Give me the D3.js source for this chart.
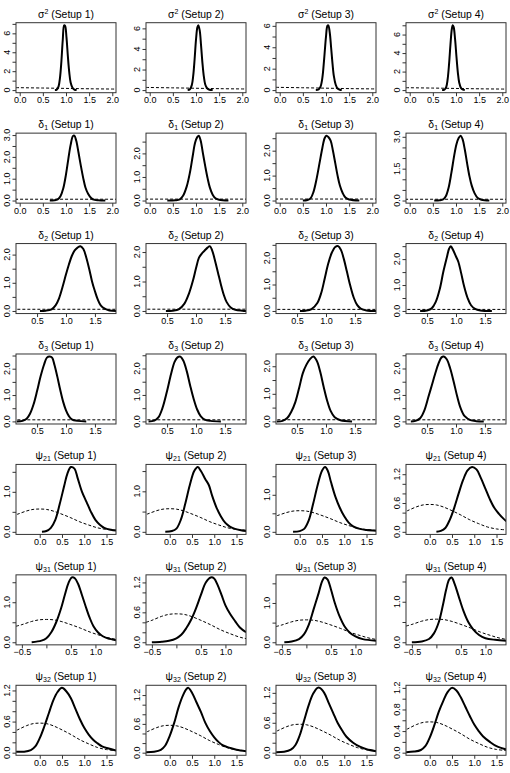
<!DOCTYPE html>
<html>
<head>
<meta charset="utf-8">
<script src="https://cdn.jsdelivr.net/npm/d3@7"></script>
<style>
  body { margin: 0; background: #fff; }
  text { font-family: "Liberation Sans", Arial, sans-serif; fill: #000; }
</style>
</head>
<body>
<svg id="chart" width="510" height="773"></svg>
<script>
// --- Labels ---
const setups = ["Setup 1", "Setup 2", "Setup 3", "Setup 4"];
const paramSymbols = ["σ", "δ", "δ", "δ", "ψ", "ψ", "ψ"];
const paramSup = ["2", "", "", "", "", "", ""];
const paramSub = ["", "1", "2", "3", "21", "31", "32"];

// --- Axis limits (before R's 4% expansion) and ticks ---
const xLimits = [[0, 2], [0, 2], [0.2, 1.8], [0.2, 1.8], [-0.45, 1.63], [-0.544, 1.344], [-0.45, 1.63]];
const xTicks = [
  [0, 0.5, 1, 1.5, 2], [0, 0.5, 1, 1.5, 2], [0.5, 1, 1.5], [0.5, 1, 1.5],
  [0, 0.5, 1, 1.5], [-0.5, 0, 0.5, 1], [0, 0.5, 1, 1.5]
];
const xLabels = [
  [0, 0.5, 1, 1.5, 2], [0, 0.5, 1, 1.5, 2], [0.5, 1, 1.5], [0.5, 1, 1.5],
  [0, 0.5, 1, 1.5], [-0.5, 0.5, 1], [0, 0.5, 1, 1.5]
];
const yTicks = [
  [[0,1,2,3,4,5,6,7], [0,1,2,3,4,5,6], [0,1,2,3,4,5,6], [0,1,2,3,4,5,6,7]],
  [[0,0.5,1,1.5,2,2.5,3], [0,0.5,1,1.5,2,2.5], [0,0.5,1,1.5,2,2.5], [0,0.5,1,1.5,2,2.5,3]],
  [[0,0.5,1,1.5,2], [0,0.5,1,1.5,2], [0,0.5,1,1.5,2,2.5], [0,0.5,1,1.5,2,2.5]],
  [[0,0.5,1,1.5,2,2.5], [0,0.5,1,1.5,2,2.5], [0,0.5,1,1.5,2], [0,0.5,1,1.5,2,2.5]],
  [[0,0.5,1,1.5], [0,0.5,1,1.5], [0,0.5,1,1.5], [0,0.2,0.4,0.6,0.8,1,1.2]],
  [[0,0.5,1,1.5], [0,0.2,0.4,0.6,0.8,1,1.2], [0,0.5,1,1.5], [0,0.5,1,1.5]],
  [[0,0.2,0.4,0.6,0.8,1,1.2], [0,0.2,0.4,0.6,0.8,1,1.2], [0,0.2,0.4,0.6,0.8,1,1.2], [0,0.2,0.4,0.6,0.8,1,1.2]]
];
const yLabels = [
  [[0,2,4,6], [0,2,4,6], [0,2,4,6], [0,2,4,6]],
  [[0,1,2,3], [0,1,2], [0,1,2], [0,1.5,3]],
  [[0,1,2], [0,1,2], [0,1,2], [0,1,2]],
  [[0,1,2], [0,1,2], [0,1,2], [0,1,2]],
  [[0,1], [0,1], [0,1], [0,0.6,1.2]],
  [[0,1], [0,0.6,1.2], [0,1], [0,1]],
  [[0,0.6,1.2], [0,0.6,1.2], [0,0.6,1.2], [0,0.4,0.8,1.2]]
];

// --- Posterior densities (solid) ---
const sigma2Post = [
  [[0.76,0],[0.80,0.05],[0.84,0.4],[0.87,1.3],[0.90,3.0],[0.93,5.3],[0.96,6.85],[0.98,6.8],[1.01,5.6],[1.04,3.6],[1.07,1.9],[1.10,0.8],[1.14,0.25],[1.18,0.06],[1.23,0]],
  [[0.82,0],[0.87,0.08],[0.91,0.5],[0.94,1.4],[0.97,3.0],[1.0,4.9],[1.03,6.1],[1.05,6.3],[1.08,5.8],[1.11,4.3],[1.14,2.6],[1.17,1.3],[1.20,0.55],[1.24,0.18],[1.29,0.04],[1.36,0]],
  [[0.78,0],[0.84,0.06],[0.88,0.3],[0.92,1.1],[0.96,2.9],[1.0,5.0],[1.03,6.0],[1.05,6.05],[1.08,5.4],[1.11,4.0],[1.14,2.5],[1.17,1.3],[1.21,0.5],[1.25,0.15],[1.30,0.03],[1.34,0]],
  [[0.70,0],[0.75,0.04],[0.79,0.35],[0.82,1.2],[0.85,2.8],[0.88,4.9],[0.91,6.6],[0.93,7.0],[0.95,6.8],[0.98,5.5],[1.01,3.6],[1.04,1.9],[1.07,0.8],[1.11,0.22],[1.15,0.05],[1.19,0]]
];
const delta1Post = [
  [[0.65,0],[0.75,0.01],[0.82,0.05],[0.88,0.2],[0.94,0.55],[1.0,1.2],[1.05,1.9],[1.1,2.55],[1.15,2.95],[1.18,2.97],[1.22,2.75],[1.27,2.2],[1.32,1.6],[1.37,1.05],[1.42,0.6],[1.48,0.3],[1.55,0.1],[1.62,0.03],[1.7,0.01],[1.85,0]],
  [[0.38,0],[0.55,0.01],[0.65,0.05],[0.72,0.2],[0.8,0.6],[0.87,1.2],[0.93,1.9],[0.98,2.45],[1.03,2.7],[1.06,2.75],[1.1,2.55],[1.15,2.0],[1.2,1.45],[1.25,0.95],[1.3,0.55],[1.36,0.25],[1.42,0.1],[1.5,0.03],[1.7,0]],
  [[0.5,0],[0.6,0.02],[0.67,0.1],[0.73,0.35],[0.8,0.9],[0.86,1.5],[0.92,2.1],[0.97,2.5],[1.01,2.6],[1.05,2.55],[1.1,2.4],[1.15,2.0],[1.2,1.5],[1.25,1.0],[1.3,0.6],[1.36,0.3],[1.42,0.12],[1.5,0.04],[1.72,0]],
  [[0.53,0],[0.65,0.01],[0.72,0.05],[0.78,0.2],[0.84,0.6],[0.9,1.3],[0.96,2.1],[1.01,2.65],[1.06,2.95],[1.1,3.05],[1.14,2.9],[1.19,2.4],[1.24,1.75],[1.29,1.15],[1.34,0.7],[1.4,0.35],[1.47,0.12],[1.55,0.04],[1.72,0]]
];
const delta2Post = [
  [[0.55,0],[0.65,0.01],[0.75,0.06],[0.82,0.2],[0.88,0.45],[0.94,0.85],[1.0,1.3],[1.05,1.65],[1.1,1.95],[1.15,2.15],[1.2,2.25],[1.25,2.3],[1.3,2.2],[1.35,1.9],[1.4,1.5],[1.45,1.05],[1.5,0.7],[1.55,0.4],[1.6,0.2],[1.67,0.08],[1.75,0.02],[1.87,0]],
  [[0.48,0],[0.6,0.01],[0.7,0.05],[0.8,0.25],[0.88,0.6],[0.95,1.05],[1.0,1.45],[1.05,1.8],[1.1,1.95],[1.15,2.05],[1.2,2.15],[1.24,2.2],[1.28,2.05],[1.33,1.7],[1.38,1.3],[1.43,0.9],[1.48,0.55],[1.53,0.3],[1.6,0.12],[1.68,0.04],[1.8,0.01],[1.87,0]],
  [[0.55,0],[0.65,0.01],[0.75,0.07],[0.85,0.3],[0.92,0.7],[0.98,1.25],[1.04,1.8],[1.1,2.2],[1.16,2.42],[1.21,2.45],[1.26,2.3],[1.31,1.95],[1.36,1.5],[1.42,0.95],[1.48,0.5],[1.54,0.22],[1.6,0.09],[1.7,0.02],[1.87,0]],
  [[0.38,0],[0.5,0.02],[0.58,0.1],[0.65,0.35],[0.72,0.85],[0.78,1.5],[0.84,2.05],[0.88,2.4],[0.91,2.5],[0.95,2.35],[1.0,2.1],[1.04,1.9],[1.09,1.45],[1.14,0.95],[1.2,0.5],[1.26,0.22],[1.33,0.08],[1.42,0.02],[1.62,0]]
];
const delta3Post = [
  [[0.15,0],[0.25,0.02],[0.32,0.1],[0.38,0.3],[0.44,0.65],[0.5,1.15],[0.56,1.7],[0.62,2.15],[0.67,2.42],[0.72,2.46],[0.76,2.42],[0.8,2.15],[0.85,1.7],[0.9,1.2],[0.95,0.75],[1.0,0.42],[1.05,0.2],[1.1,0.08],[1.2,0.02],[1.35,0]],
  [[0.18,0],[0.28,0.03],[0.35,0.15],[0.42,0.5],[0.5,1.15],[0.57,1.8],[0.63,2.25],[0.68,2.42],[0.73,2.45],[0.78,2.3],[0.84,1.9],[0.9,1.35],[0.96,0.85],[1.02,0.45],[1.08,0.2],[1.15,0.07],[1.25,0.02],[1.43,0]],
  [[0.15,0],[0.25,0.02],[0.33,0.12],[0.4,0.35],[0.47,0.7],[0.54,1.25],[0.6,1.75],[0.66,2.05],[0.72,2.25],[0.78,2.35],[0.84,2.2],[0.9,1.8],[0.96,1.25],[1.02,0.75],[1.08,0.38],[1.15,0.15],[1.25,0.04],[1.45,0]],
  [[0.22,0],[0.3,0.02],[0.38,0.12],[0.45,0.4],[0.52,0.9],[0.58,1.35],[0.64,1.8],[0.7,2.2],[0.75,2.42],[0.79,2.45],[0.84,2.35],[0.9,2.0],[0.96,1.5],[1.02,0.95],[1.08,0.5],[1.15,0.2],[1.25,0.05],[1.35,0.01],[1.48,0]]
];
const psi21Post = [
  [[0.05,0],[0.15,0.02],[0.25,0.1],[0.35,0.3],[0.45,0.7],[0.55,1.15],[0.62,1.45],[0.7,1.62],[0.78,1.58],[0.85,1.35],[0.95,1.0],[1.05,0.75],[1.15,0.5],[1.25,0.3],[1.35,0.18],[1.45,0.1],[1.6,0.05],[1.72,0.03]],
  [[-0.1,0],[0.05,0.02],[0.15,0.08],[0.25,0.3],[0.35,0.7],[0.45,1.15],[0.55,1.5],[0.63,1.6],[0.7,1.5],[0.8,1.3],[0.88,1.15],[0.95,0.9],[1.05,0.6],[1.15,0.38],[1.25,0.22],[1.35,0.13],[1.45,0.08],[1.6,0.04],[1.72,0.02]],
  [[-0.15,0],[0.0,0.02],[0.1,0.08],[0.2,0.3],[0.3,0.75],[0.4,1.25],[0.5,1.65],[0.57,1.75],[0.63,1.65],[0.7,1.35],[0.8,0.95],[0.9,0.65],[1.0,0.42],[1.1,0.25],[1.2,0.15],[1.35,0.08],[1.5,0.05],[1.72,0.03]],
  [[0.15,0],[0.25,0.02],[0.35,0.08],[0.45,0.25],[0.55,0.5],[0.65,0.8],[0.75,1.08],[0.85,1.28],[0.95,1.35],[1.05,1.3],[1.15,1.12],[1.25,0.9],[1.35,0.68],[1.45,0.5],[1.55,0.38],[1.65,0.28],[1.72,0.22]]
];
const psi31Post = [
  [[-0.3,0],[-0.1,0.04],[0.0,0.1],[0.1,0.25],[0.2,0.5],[0.3,0.85],[0.38,1.2],[0.45,1.48],[0.52,1.62],[0.58,1.6],[0.65,1.45],[0.72,1.2],[0.8,0.9],[0.88,0.62],[0.96,0.4],[1.05,0.25],[1.15,0.15],[1.25,0.1],[1.35,0.07],[1.42,0.05]],
  [[-0.5,0],[-0.3,0.01],[-0.15,0.03],[0.0,0.08],[0.1,0.15],[0.2,0.28],[0.3,0.45],[0.4,0.68],[0.5,0.95],[0.6,1.2],[0.7,1.3],[0.77,1.28],[0.84,1.15],[0.92,0.95],[1.0,0.74],[1.1,0.56],[1.2,0.42],[1.3,0.29],[1.42,0.2]],
  [[-0.45,0],[-0.3,0.02],[-0.15,0.08],[-0.05,0.2],[0.05,0.45],[0.15,0.85],[0.25,1.25],[0.32,1.55],[0.37,1.65],[0.43,1.6],[0.5,1.35],[0.58,1.0],[0.68,0.65],[0.78,0.4],[0.88,0.25],[1.0,0.15],[1.15,0.08],[1.42,0.04]],
  [[-0.5,0],[-0.3,0.02],[-0.15,0.08],[-0.05,0.22],[0.05,0.5],[0.13,0.9],[0.2,1.3],[0.26,1.55],[0.31,1.6],[0.37,1.45],[0.45,1.15],[0.55,0.78],[0.65,0.5],[0.75,0.32],[0.87,0.18],[1.0,0.1],[1.2,0.06],[1.42,0.04]]
];
const psi32Post = [
  [[-0.53,0.02],[-0.35,0.02],[-0.2,0.05],[-0.1,0.12],[0.0,0.28],[0.1,0.5],[0.2,0.75],[0.3,1.0],[0.4,1.17],[0.5,1.25],[0.6,1.18],[0.7,1.05],[0.8,0.85],[0.9,0.65],[1.0,0.48],[1.1,0.35],[1.2,0.25],[1.3,0.18],[1.4,0.12],[1.55,0.08],[1.72,0.04]],
  [[-0.53,0.01],[-0.35,0.02],[-0.2,0.06],[-0.1,0.15],[0.0,0.35],[0.1,0.62],[0.2,0.95],[0.3,1.2],[0.38,1.33],[0.42,1.35],[0.5,1.25],[0.6,1.05],[0.7,0.85],[0.8,0.62],[0.9,0.45],[1.0,0.32],[1.1,0.22],[1.2,0.15],[1.35,0.1],[1.5,0.06],[1.72,0.03]],
  [[-0.53,0.01],[-0.35,0.02],[-0.2,0.06],[-0.1,0.15],[0.0,0.35],[0.1,0.65],[0.2,0.95],[0.3,1.18],[0.4,1.3],[0.45,1.3],[0.55,1.2],[0.65,1.0],[0.75,0.8],[0.85,0.6],[0.95,0.45],[1.05,0.32],[1.2,0.2],[1.35,0.12],[1.5,0.07],[1.72,0.03]],
  [[-0.53,0.01],[-0.35,0.02],[-0.2,0.05],[-0.1,0.12],[0.0,0.28],[0.1,0.5],[0.2,0.75],[0.3,0.95],[0.4,1.12],[0.5,1.2],[0.6,1.15],[0.7,1.02],[0.8,0.85],[0.9,0.68],[1.0,0.52],[1.1,0.4],[1.2,0.3],[1.35,0.2],[1.5,0.12],[1.72,0.06]]
];

// --- Prior densities (dashed), same in every setup of a row ---
const sigma2Prior = [[-0.08,0.26],[0.5,0.22],[1.0,0.18],[1.5,0.14],[2.08,0.11]];
const deltaPrior = [[-0.1,0.06],[2.1,0.06]];
const psiPrior = [[-0.62,0.4],[-0.5,0.44],[-0.3,0.52],[-0.15,0.56],[0,0.57],[0.15,0.56],[0.3,0.52],[0.5,0.44],[0.7,0.35],[0.9,0.25],[1.1,0.17],[1.3,0.1],[1.5,0.06],[1.72,0.04]];

const postRows = [sigma2Post, delta1Post, delta2Post, delta3Post, psi21Post, psi31Post, psi32Post];
const priorRows = [sigma2Prior, deltaPrior, deltaPrior, deltaPrior, psiPrior, psiPrior, psiPrior];

// --- Layout ---
const svg = d3.select("#chart");
const cellW = 130, cellH = 110.43;
const boxLeft = 16, boxTop = 22.7, boxW = 100, boxH = 70;
const fmt = d3.format(".1f");
const near = (arr, v) => arr.some(a => Math.abs(a - v) < 1e-9);

postRows.forEach((row, r) => {
  row.forEach((curve, c) => {
    const g = svg.append("g")
      .attr("transform", `translate(${c * cellW + boxLeft},${r * cellH + boxTop})`);

    const lim = xLimits[r];
    const pad = (lim[1] - lim[0]) * 0.04;
    const x = d3.scaleLinear().domain([lim[0] - pad, lim[1] + pad]).range([0, boxW]);
    const ymax = d3.max(curve, d => d[1]);
    const y = d3.scaleLinear().domain([-0.04 * ymax, 1.04 * ymax]).range([boxH, 0]);

    const clipId = `clip-${r}-${c}`;
    g.append("clipPath").attr("id", clipId)
      .append("rect").attr("width", boxW).attr("height", boxH);

    const line = d3.line()
      .x(d => x(d[0]))
      .y(d => y(d[1]))
      .curve(d3.curveCatmullRom.alpha(0.5));

    // prior
    g.append("path")
      .datum(priorRows[r])
      .attr("clip-path", `url(#${clipId})`)
      .attr("fill", "none")
      .attr("stroke", "#000")
      .attr("stroke-width", 1)
      .attr("stroke-dasharray", "3,2")
      .attr("d", line);

    // posterior
    g.append("path")
      .datum(curve)
      .attr("clip-path", `url(#${clipId})`)
      .attr("fill", "none")
      .attr("stroke", "#000")
      .attr("stroke-width", 2)
      .attr("stroke-linejoin", "round")
      .attr("d", line);

    // --- Axes ---
    const xa = g.append("g")
      .attr("transform", `translate(0,${boxH})`)
      .call(d3.axisBottom(x)
        .tickValues(xTicks[r])
        .tickSize(3.5)
        .tickPadding(0.5)
        .tickFormat(d => near(xLabels[r], d) ? (d < 0 ? "\u2212" + fmt(-d) : fmt(d)) : ""));
    xa.select(".domain").remove();
    xa.selectAll("line").attr("stroke", "#333");
    xa.selectAll("text").attr("font-size", 9).attr("font-family", null).attr("fill", "#111");

    const ya = g.append("g")
      .call(d3.axisLeft(y)
        .tickValues(yTicks[r][c].filter(v => v <= y.domain()[1]))
        .tickSize(3.5)
        .tickFormat(""));
    ya.select(".domain").remove();
    ya.selectAll("line").attr("stroke", "#333");

    const yl = r === 0 ? d3.format("d") : fmt;
    g.selectAll(".ylab")
      .data(yLabels[r][c])
      .join("text")
      .attr("class", "ylab")
      .attr("transform", d => `translate(-6.2,${y(d)}) rotate(-90)`)
      .attr("text-anchor", "middle")
      .attr("font-size", 9)
      .attr("fill", "#111")
      .text(d => yl(d));

    // box
    g.append("rect")
      .attr("width", boxW).attr("height", boxH)
      .attr("fill", "none").attr("stroke", "#333").attr("stroke-width", 1);

    // --- Title ---
    const t = g.append("text")
      .attr("x", boxW / 2)
      .attr("y", -5)
      .attr("text-anchor", "middle")
      .attr("font-size", 10.4);
    t.append("tspan").text(paramSymbols[r]);
    if (paramSup[r]) {
      t.append("tspan").attr("dy", -4).attr("font-size", 7).text(paramSup[r]);
      t.append("tspan").attr("dy", 4).text(" (" + setups[c] + ")");
    } else {
      t.append("tspan").attr("dy", 2).attr("font-size", 7).text(paramSub[r]);
      t.append("tspan").attr("dy", -2).text(" (" + setups[c] + ")");
    }
  });
});
</script>
</body>
</html>
